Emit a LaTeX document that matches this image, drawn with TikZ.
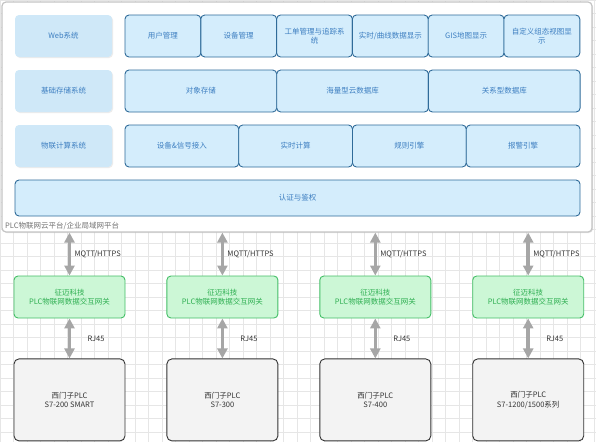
\documentclass[tikz,border=0pt]{standalone}
\usepackage{fontspec}
\setmainfont{Noto Sans CJK SC}
\usepackage{tikz}
\usetikzlibrary{positioning, arrows.meta, shadows}
\definecolor{gridgray}{HTML}{E6E6E6}
\definecolor{platborder}{HTML}{C4C4C4}
\definecolor{modfill}{HTML}{D4EDFC}
\definecolor{modborder}{HTML}{2F6B99}
\definecolor{modtext}{HTML}{3E7FC1}
\definecolor{sysfill}{HTML}{CFE8F8}
\definecolor{gwfill}{HTML}{CCF7D6}
\definecolor{gwborder}{HTML}{43BE66}
\definecolor{gwtext}{HTML}{2FAF52}
\definecolor{plcfill}{HTML}{F3F3F3}
\definecolor{plcborder}{HTML}{333333}
\definecolor{linkgray}{HTML}{A6A6A6}

\begin{document}
\begin{tikzpicture}[
  x=1pt, y=-1pt,
  every node/.style={font=\fontsize{7.5}{9.5}\selectfont},
  platform/.style={rectangle, draw=platborder, line width=1.2pt, rounded corners=4pt, fill=white,
    drop shadow={opacity=0.2, shadow xshift=1pt, shadow yshift=-1pt}},
  sysbox/.style={rectangle, rounded corners=4pt, fill=sysfill, text=modtext, align=center,
    minimum width=97pt, minimum height=42pt, outer sep=0pt,
    drop shadow={opacity=0.15, shadow xshift=1pt, shadow yshift=-1pt}},
  modbox/.style={rectangle, draw=modborder, line width=0.9pt, rounded corners=4pt, fill=modfill,
    text=modtext, align=center, minimum height=42pt, outer sep=0pt},
  gwbox/.style={rectangle, draw=gwborder, line width=0.9pt, rounded corners=4pt, fill=gwfill,
    text=gwtext, align=center, minimum width=111pt, minimum height=42pt},
  plcbox/.style={rectangle, draw=plcborder, line width=0.9pt, rounded corners=5pt, fill=plcfill,
    text=black!80, align=center, minimum width=111pt, minimum height=82pt},
  link/.style={draw=linkgray, line width=3.5pt,
    {Triangle[width=10pt,length=10pt]}-{Triangle[width=10pt,length=10pt]}},
  linklabel/.style={text=black!80},
]
\useasboundingbox (0,0) rectangle (596,442);
\draw[gridgray, line width=0.5pt, step=13.5pt] (0,442) grid (596,0);

% cloud platform
\node[platform, minimum width=590pt, minimum height=230pt] (plat) at (297,117) {};
\node[anchor=west, text=black!55, inner sep=0pt] (platname) at (5,226) {PLC物联网云平台/企业局域网平台};

\node[sysbox] (web) at (63.5,36) {Web系统};
\node[sysbox, below=13pt of web] (store) {基础存储系统};
\node[sysbox, below=13pt of store] (compute) {物联计算系统};

\node[modbox, minimum width=75.8pt, right=13pt of web] (usermgr) {用户管理};
\node[modbox, minimum width=75.8pt, right=0pt of usermgr] (devmgr) {设备管理};
\node[modbox, minimum width=75.8pt, right=0pt of devmgr] (ticket) {工单管理与追踪系\\统};
\node[modbox, minimum width=75.8pt, right=0pt of ticket] (rtchart) {实时/曲线数据显示};
\node[modbox, minimum width=75.8pt, right=0pt of rtchart] (gis) {GIS地图显示};
\node[modbox, minimum width=75.8pt, right=0pt of gis] (custom) {自定义组态视图显\\示};

\node[modbox, minimum width=151.7pt, right=13pt of store] (objstore) {对象存储};
\node[modbox, minimum width=151.7pt, right=0pt of objstore] (clouddb) {海量型云数据库};
\node[modbox, minimum width=151.7pt, right=0pt of clouddb] (reldb) {关系型数据库};

\node[modbox, minimum width=113.75pt, right=13pt of compute] (devin) {设备\&信号接入};
\node[modbox, minimum width=113.75pt, right=0pt of devin] (rtcalc) {实时计算};
\node[modbox, minimum width=113.75pt, right=0pt of rtcalc] (rules) {规则引擎};
\node[modbox, minimum width=113.75pt, right=0pt of rules] (alarm) {报警引擎};

\node[modbox, minimum width=565pt, minimum height=36pt,
  below=13pt of compute.south west, anchor=north west] (auth) {认证与鉴权};

% gateways and PLCs
\node[gwbox] (gw1) at (69.5,297) {征迈科技\\PLC物联网数据交互网关};
\node[gwbox, right=41pt of gw1] (gw2) {征迈科技\\PLC物联网数据交互网关};
\node[gwbox, right=41pt of gw2] (gw3) {征迈科技\\PLC物联网数据交互网关};
\node[gwbox, right=41pt of gw3] (gw4) {征迈科技\\PLC物联网数据交互网关};

\node[plcbox, below=40pt of gw1] (plc1) {西门子PLC\\S7-200 SMART};
\node[plcbox, below=40pt of gw2] (plc2) {西门子PLC\\S7-300};
\node[plcbox, below=40pt of gw3] (plc3) {西门子PLC\\S7-400};
\node[plcbox, below=40pt of gw4] (plc4) {西门子PLC\\S7-1200/1500系列};

\draw[link] (gw1.north |- plat.south) -- node[linklabel, right]{MQTT/HTTPS} (gw1.north);
\draw[link] (gw2.north |- plat.south) -- node[linklabel, right]{MQTT/HTTPS} (gw2.north);
\draw[link] (gw3.north |- plat.south) -- node[linklabel, right]{MQTT/HTTPS} (gw3.north);
\draw[link] (gw4.north |- plat.south) -- node[linklabel, right]{MQTT/HTTPS} (gw4.north);

\draw[link] (gw1) -- node[linklabel, right, xshift=13pt]{RJ45} (plc1);
\draw[link] (gw2) -- node[linklabel, right, xshift=13pt]{RJ45} (plc2);
\draw[link] (gw3) -- node[linklabel, right, xshift=13pt]{RJ45} (plc3);
\draw[link] (gw4) -- node[linklabel, right, xshift=13pt]{RJ45} (plc4);
\end{tikzpicture}
\end{document}
